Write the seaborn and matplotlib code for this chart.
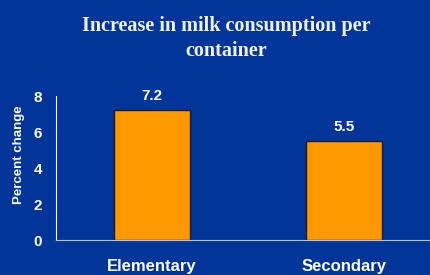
import numpy as np
import matplotlib
matplotlib.use("Agg")
import matplotlib.pyplot as plt
import seaborn as sns

categories = ["Elementary", "Secondary"]
values = [7.2, 5.5]
y_ticks = [0, 2, 4, 6, 8]
title = "Increase in milk consumption per\ncontainer"

bg = "#02359a"
sns.set_style("white")

fig = plt.figure(figsize=(4.3, 2.75), dpi=100)
fig.patch.set_facecolor(bg)

# axes placed in pixel terms (x from 56 to 440, y from 96 to 240)
ax = fig.add_axes([56 / 430, 35 / 275, 384 / 430, 144 / 275])
ax.set_facecolor("none")

sns.barplot(x=categories, y=values, color="#ff9900", edgecolor="#1a1a2a",
            linewidth=1, width=0.4, saturation=1, ax=ax)

ax.bar_label(ax.containers[0], fmt="%.1f", padding=5, color="white",
             fontsize=11, fontweight="bold", family="Liberation Sans")

ax.set_xlim(-0.5, 1.5)
ax.set_ylim(0, 8)
ax.set_yticks(y_ticks)
ax.set_yticklabels([str(t) for t in y_ticks], color="white", fontsize=11,
                   fontweight="bold", family="Liberation Sans")
ax.set_xticks([0, 1])
ax.set_xticklabels(categories, color="white", fontsize=12,
                   fontweight="bold", family="Liberation Sans")
ax.set_xticks([0.5], minor=True)
ax.tick_params(axis="x", which="major", length=0, pad=14)
ax.tick_params(axis="x", which="minor", length=4, color="white", width=1)
ax.tick_params(axis="y", length=5, color="white", width=1, pad=5, direction="out")

ax.set_ylabel("Percent change", color="white", fontsize=9.5,
              fontweight="bold", family="Liberation Sans")
ax.yaxis.set_label_coords(-0.08, 0.59)
ax.set_xlabel("")

for side in ["top", "right"]:
    ax.spines[side].set_visible(False)
ax.spines["left"].set_color("white")
ax.spines["bottom"].set_color("#b8c4e4")

fig.text(0.525, 0.86, title, ha="center", va="center", color="#f4f4f8",
         fontsize=14.5, fontweight="bold", family="Liberation Serif",
         linespacing=1.4)

fig.savefig("out.png", dpi=100, facecolor=bg)
